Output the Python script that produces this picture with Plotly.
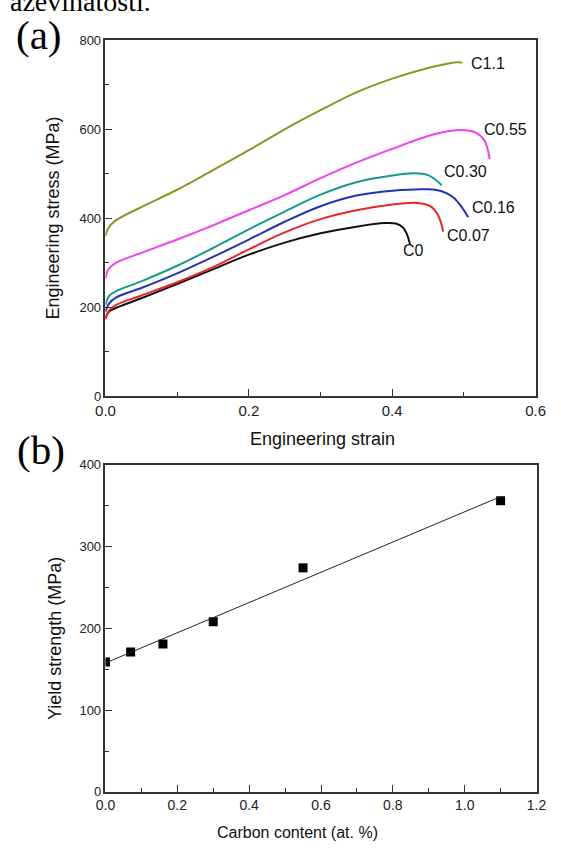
import numpy as np
import plotly.graph_objects as go

# ---------------- Panel (a): engineering stress-strain curves ----------------
c0_strain = [0, 0.005, 0.019, 0.05, 0.10, 0.15, 0.20, 0.25, 0.30, 0.35, 0.39, 0.405, 0.415, 0.421, 0.425]
c0_stress = [175, 190, 201, 220, 252, 285, 318, 345, 366, 381, 389, 388, 379, 362, 340]

c007_strain = [0, 0.005, 0.015, 0.05, 0.10, 0.15, 0.20, 0.25, 0.30, 0.35, 0.40, 0.43, 0.445, 0.455, 0.463, 0.468, 0.471]
c007_stress = [172, 192, 205, 226, 256, 290, 330, 368, 398, 418, 431, 435, 432, 425, 410, 390, 370]

c016_strain = [0, 0.005, 0.015, 0.05, 0.10, 0.15, 0.20, 0.25, 0.30, 0.35, 0.40, 0.45, 0.47, 0.485, 0.497, 0.506]
c016_stress = [190, 208, 222, 243, 276, 313, 352, 392, 427, 451, 462, 465, 460, 447, 425, 402]

c030_strain = [0, 0.005, 0.015, 0.05, 0.10, 0.15, 0.20, 0.25, 0.30, 0.35, 0.40, 0.43, 0.45, 0.46, 0.469]
c030_stress = [205, 225, 236, 258, 293, 333, 375, 415, 453, 481, 496, 501, 497, 487, 474]

c055_strain = [0, 0.004, 0.015, 0.05, 0.10, 0.15, 0.20, 0.25, 0.30, 0.35, 0.40, 0.45, 0.48, 0.50, 0.516, 0.529, 0.536]
c055_stress = [265, 285, 300, 322, 352, 384, 418, 452, 490, 525, 556, 585, 596, 598, 593, 574, 533]

c11_strain = [0, 0.004, 0.0135, 0.05, 0.10, 0.15, 0.20, 0.25, 0.30, 0.35, 0.40, 0.45, 0.475, 0.49, 0.498]
c11_stress = [360, 378, 394, 425, 464, 508, 553, 600, 643, 683, 714, 738, 747, 751, 750]

curve_names = ["C0", "C0.07", "C0.16", "C0.30", "C0.55", "C1.1"]
curve_colors = ["#111111", "#e8262a", "#2233bb", "#159a8c", "#f040f0", "#939322"]
curve_data = [
    (c0_strain, c0_stress),
    (c007_strain, c007_stress),
    (c016_strain, c016_stress),
    (c030_strain, c030_stress),
    (c055_strain, c055_stress),
    (c11_strain, c11_stress),
]
# label anchor (left edge) positions in data units
label_x = [0.412, 0.474, 0.509, 0.470, 0.525, 0.507]
label_y = [327, 362, 424, 504, 599, 749]

# ---------------- Panel (b): yield strength vs carbon ----------------
carbon = [0.0, 0.07, 0.16, 0.30, 0.55, 1.1]
yield_strength = [159, 171, 181, 208, 274, 356]

W, H = 561, 852
def px_x(p):
    return p / W
def px_y(p):
    return 1 - p / H

fig = go.Figure()

for (sx, sy), name, col in zip(curve_data, curve_names, curve_colors):
    fig.add_trace(go.Scatter(x=sx, y=sy, mode="lines", name=name,
                             line=dict(color=col, width=2, shape="spline", smoothing=1.0),
                             xaxis="x", yaxis="y", showlegend=False))

fig.add_trace(go.Scatter(x=carbon, y=yield_strength, mode="markers",
                         marker=dict(symbol="square", size=9, color="black"),
                         xaxis="x2", yaxis="y2", showlegend=False))
slope, intercept = np.polyfit(carbon, yield_strength, 1)
fit_x = [min(carbon), max(carbon)]
fit_y = [intercept + slope * v for v in fit_x]
fig.add_trace(go.Scatter(x=fit_x, y=fit_y, mode="lines",
                         line=dict(color="#222222", width=1),
                         xaxis="x2", yaxis="y2", showlegend=False))

font_sans = "Liberation Sans, Arial, sans-serif"
font_serif = "Liberation Serif, Times New Roman, serif"

axis_common = dict(showline=True, linecolor="#333333", linewidth=1.5, mirror=True,
                   ticks="inside", tickcolor="#333333", ticklen=7, tickwidth=1.2,
                   showgrid=False, zeroline=False)

fig.update_layout(
    width=W, height=H,
    margin=dict(l=0, r=0, t=0, b=0),
    paper_bgcolor="white", plot_bgcolor="white",
    xaxis=dict(domain=[px_x(99), px_x(545)], anchor="y", range=[0, 0.6],
               tickvals=[0, 0.2, 0.4, 0.6], ticktext=["0.0", "0.2", "0.4", "0.6"],
               minor=dict(ticks="inside", ticklen=4, tickcolor="#333333", dtick=0.1, tick0=0),
               tickfont=dict(family=font_sans, size=15, color="#222222"), **axis_common),
    yaxis=dict(domain=[px_y(396), px_y(34)], anchor="x", range=[0, 800],
               tickvals=[0, 200, 400, 600, 800],
               minor=dict(ticks="inside", ticklen=4, tickcolor="#333333", dtick=100, tick0=0),
               tickfont=dict(family=font_sans, size=13, color="#222222"), **axis_common),
    xaxis2=dict(domain=[px_x(99), px_x(546)], anchor="y2", range=[0, 1.2],
                tickvals=[0, 0.2, 0.4, 0.6, 0.8, 1.0, 1.2],
                ticktext=["0.0", "0.2", "0.4", "0.6", "0.8", "1.0", "1.2"],
                minor=dict(ticks="inside", ticklen=4, tickcolor="#333333", dtick=0.1, tick0=0),
                tickfont=dict(family=font_sans, size=14, color="#222222"), **axis_common),
    yaxis2=dict(domain=[px_y(799), px_y(466)], anchor="x2", range=[0, 400],
                tickvals=[0, 100, 200, 300, 400],
                minor=dict(ticks="inside", ticklen=4, tickcolor="#333333", dtick=50, tick0=0),
                tickfont=dict(family=font_sans, size=13, color="#222222"), **axis_common),
)

annotations = []
for name, col, lx, ly in zip(curve_names, curve_colors, label_x, label_y):
    annotations.append(dict(x=lx, y=ly, xref="x", yref="y", text=name, showarrow=False,
                            xanchor="left", yanchor="middle",
                            font=dict(family=font_sans, size=16, color="#111111")))
# axis titles
annotations += [
    dict(x=px_x(324), y=px_y(440), xref="paper", yref="paper", text="Engineering strain",
         showarrow=False, xanchor="center", yanchor="middle",
         font=dict(family=font_sans, size=18, color="#111111")),
    dict(x=px_x(45), y=px_y(215), xref="paper", yref="paper", text="Engineering stress (MPa)",
         showarrow=False, textangle=-90, xanchor="center", yanchor="middle",
         font=dict(family=font_sans, size=18, color="#111111")),
    dict(x=px_x(298), y=px_y(840), xref="paper", yref="paper", text="Carbon content (at. %)",
         showarrow=False, xanchor="center", yanchor="middle",
         font=dict(family=font_sans, size=16, color="#111111")),
    dict(x=px_x(46), y=px_y(643), xref="paper", yref="paper", text="Yield strength (MPa)",
         showarrow=False, textangle=-90, xanchor="center", yanchor="middle",
         font=dict(family=font_sans, size=18, color="#111111")),
    # panel labels
    dict(x=px_x(30), y=px_y(29), xref="paper", yref="paper", text="(a)",
         showarrow=False, xanchor="center", yanchor="middle",
         font=dict(family=font_serif, size=41, color="#000000")),
    dict(x=px_x(32), y=px_y(451), xref="paper", yref="paper", text="(b)",
         showarrow=False, xanchor="center", yanchor="middle",
         font=dict(family=font_serif, size=41, color="#000000")),
    # clipped line of running text at the very top
    dict(x=px_x(-2), y=px_y(12), xref="paper", yref="paper", text="azevlnatosti.",
         showarrow=False, xanchor="left", yanchor="bottom",
         font=dict(family=font_serif, size=28, color="#000000")),
]
fig.update_layout(annotations=annotations)

fig.write_html("out.html")
